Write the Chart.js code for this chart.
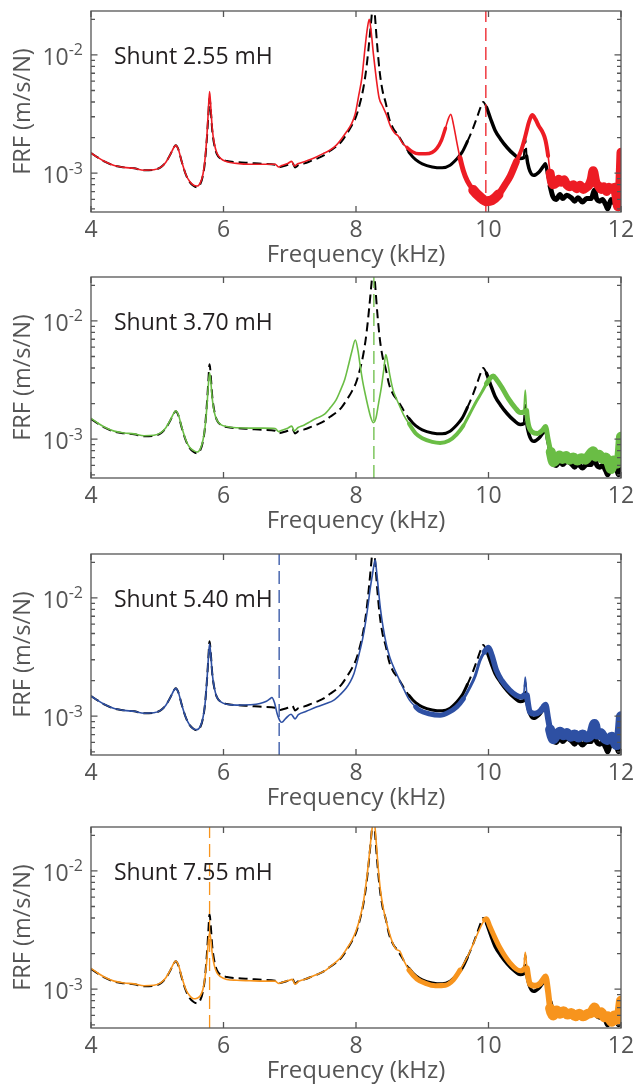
<!DOCTYPE html>
<html>
<head>
<meta charset="utf-8">
<script src="https://cdn.jsdelivr.net/npm/chart.js@4.4.1/dist/chart.umd.min.js"></script>
<style>
  html, body { margin: 0; padding: 0; background: #fff; }
  #page { position: relative; width: 634px; height: 1085px; overflow: hidden; }
  #page canvas { position: absolute; left: 0; }
</style>
</head>
<body>
<div id="page"></div>
<script>
// axis values
const FREQ_TICKS = [4, 6, 8, 10, 12];
const FRF_DECADES = [-3, -2];
const PANEL_LABELS = ['Shunt 2.55 mH', 'Shunt 3.70 mH', 'Shunt 5.40 mH', 'Shunt 7.55 mH'];
// tuned frequency of each shunt (kHz), the vertical dashed line
const TUNED_FREQ = [9.96, 8.27, 6.84, 5.79];

// open circuit FRF, black dashed in every panel  [kHz, m/s/N]
const OPEN_CIRCUIT = [
  [4.00, 1.48e-3], [4.10, 1.36e-3], [4.20, 1.26e-3], [4.35, 1.16e-3], [4.50, 1.12e-3],
  [4.65, 1.10e-3], [4.80, 1.06e-3], [4.95, 1.07e-3], [5.05, 1.12e-3], [5.13, 1.24e-3],
  [5.20, 1.45e-3], [5.25, 1.65e-3], [5.28, 1.72e-3], [5.32, 1.58e-3], [5.37, 1.25e-3],
  [5.43, 9.8e-4], [5.49, 8.4e-4], [5.55, 7.8e-4], [5.60, 7.6e-4], [5.65, 8.1e-4],
  [5.69, 9.6e-4], [5.72, 1.25e-3], [5.75, 2.0e-3], [5.77, 3.0e-3], [5.79, 4.3e-3],
  [5.81, 3.3e-3], [5.83, 2.3e-3], [5.86, 1.75e-3], [5.90, 1.45e-3], [5.96, 1.32e-3],
  [6.05, 1.27e-3], [6.20, 1.24e-3], [6.40, 1.22e-3], [6.60, 1.20e-3], [6.78, 1.18e-3],
  [6.83, 1.12e-3], [6.88, 1.14e-3], [6.97, 1.18e-3], [7.04, 1.22e-3], [7.08, 1.12e-3],
  [7.13, 1.17e-3], [7.22, 1.21e-3], [7.32, 1.27e-3], [7.41, 1.33e-3], [7.52, 1.42e-3],
  [7.61, 1.55e-3], [7.70, 1.68e-3], [7.78, 1.85e-3], [7.86, 2.15e-3], [7.94, 2.55e-3],
  [8.00, 3.0e-3], [8.06, 3.9e-3], [8.11, 5.2e-3], [8.16, 8.0e-3], [8.20, 1.3e-2],
  [8.235, 2.1e-2], [8.265, 3.0e-2], [8.29, 2.0e-2], [8.32, 1.2e-2], [8.36, 7.0e-3],
  [8.40, 5.0e-3], [8.45, 3.9e-3], [8.50, 2.9e-3], [8.56, 2.4e-3], [8.62, 2.15e-3],
  [8.67, 1.95e-3], [8.72, 1.75e-3], [8.80, 1.5e-3], [8.90, 1.3e-3], [9.00, 1.2e-3],
  [9.15, 1.13e-3], [9.30, 1.11e-3], [9.42, 1.17e-3], [9.52, 1.32e-3], [9.60, 1.5e-3],
  [9.68, 1.85e-3], [9.76, 2.35e-3], [9.83, 3.0e-3], [9.88, 3.6e-3], [9.92, 4.0e-3],
  [9.97, 3.6e-3], [10.03, 2.9e-3], [10.10, 2.3e-3], [10.18, 1.95e-3], [10.28, 1.65e-3],
  [10.38, 1.45e-3], [10.48, 1.33e-3], [10.53, 1.35e-3], [10.555, 1.95e-3], [10.575, 1.4e-3],
  [10.61, 1.1e-3], [10.68, 9.6e-4], [10.76, 1.02e-3], [10.83, 1.15e-3], [10.86, 1.2e-3],
  [10.89, 1.0e-3], [10.93, 7.8e-4], [10.97, 6.4e-4], [11.02, 6.0e-4], [11.08, 6.6e-4],
  [11.12, 6.1e-4], [11.18, 6.5e-4], [11.25, 6.2e-4], [11.30, 5.8e-4], [11.35, 6.2e-4],
  [11.42, 5.7e-4], [11.48, 6.1e-4], [11.55, 6.1e-4], [11.60, 7.2e-4], [11.63, 6.1e-4],
  [11.68, 5.8e-4], [11.72, 6.0e-4], [11.77, 5.4e-4], [11.80, 5.0e-4], [11.85, 6.0e-4],
  [11.90, 5.6e-4], [11.92, 5.9e-4], [11.96, 5.0e-4], [12.00, 6.4e-4]
];

const SHUNT_255 = [
  [4.00, 1.48e-3], [4.10, 1.36e-3], [4.20, 1.26e-3], [4.35, 1.16e-3], [4.50, 1.12e-3],
  [4.65, 1.10e-3], [4.80, 1.06e-3], [4.95, 1.07e-3], [5.05, 1.12e-3], [5.13, 1.24e-3],
  [5.20, 1.45e-3], [5.25, 1.65e-3], [5.28, 1.72e-3], [5.32, 1.58e-3], [5.37, 1.25e-3],
  [5.43, 9.8e-4], [5.49, 8.5e-4], [5.55, 7.9e-4], [5.60, 7.8e-4], [5.65, 8.3e-4],
  [5.69, 9.8e-4], [5.72, 1.3e-3], [5.75, 2.1e-3], [5.77, 3.3e-3], [5.79, 4.9e-3],
  [5.81, 3.5e-3], [5.83, 2.4e-3], [5.86, 1.8e-3], [5.90, 1.48e-3], [5.96, 1.33e-3],
  [6.05, 1.25e-3], [6.20, 1.21e-3], [6.40, 1.19e-3], [6.60, 1.19e-3], [6.78, 1.19e-3],
  [6.83, 1.13e-3], [6.88, 1.16e-3], [6.97, 1.21e-3], [7.03, 1.26e-3], [7.07, 1.15e-3],
  [7.12, 1.20e-3], [7.22, 1.25e-3], [7.32, 1.31e-3], [7.41, 1.38e-3], [7.52, 1.48e-3],
  [7.61, 1.57e-3], [7.70, 1.72e-3], [7.78, 1.95e-3], [7.86, 2.25e-3], [7.93, 2.6e-3],
  [7.99, 3.2e-3], [8.04, 4.5e-3], [8.09, 6.5e-3], [8.14, 1.2e-2], [8.17, 1.65e-2],
  [8.20, 2.0e-2], [8.23, 1.55e-2], [8.26, 1.05e-2], [8.29, 7.5e-3], [8.32, 5.5e-3],
  [8.35, 4.3e-3], [8.40, 3.7e-3], [8.46, 3.1e-3], [8.52, 2.5e-3], [8.58, 2.2e-3],
  [8.64, 2.05e-3], [8.70, 1.8e-3], [8.77, 1.65e-3], [8.85, 1.52e-3], [8.95, 1.46e-3],
  [9.05, 1.46e-3], [9.15, 1.5e-3], [9.22, 1.62e-3], [9.29, 1.9e-3], [9.35, 2.4e-3],
  [9.40, 2.95e-3], [9.43, 3.15e-3], [9.47, 2.6e-3], [9.52, 1.85e-3], [9.57, 1.35e-3],
  [9.62, 1.05e-3], [9.68, 8.6e-4], [9.77, 7.2e-4], [9.87, 6.3e-4], [9.97, 5.8e-4],
  [10.05, 5.9e-4], [10.15, 6.6e-4], [10.25, 8.0e-4], [10.33, 9.5e-4], [10.42, 1.25e-3],
  [10.50, 1.6e-3], [10.56, 2.1e-3], [10.61, 2.7e-3], [10.66, 3.1e-3], [10.71, 2.85e-3],
  [10.76, 2.5e-3], [10.82, 2.2e-3], [10.86, 1.9e-3], [10.90, 1.4e-3], [10.93, 1.0e-3],
  [10.97, 8.0e-4], [11.02, 8.2e-4], [11.06, 8.9e-4], [11.10, 8.4e-4], [11.14, 8.8e-4],
  [11.18, 8.0e-4], [11.23, 7.7e-4], [11.28, 8.0e-4], [11.33, 7.4e-4], [11.38, 7.9e-4],
  [11.43, 7.3e-4], [11.48, 7.6e-4], [11.52, 8.0e-4], [11.55, 8.8e-4], [11.58, 1.05e-3],
  [11.62, 8.4e-4], [11.66, 7.8e-4], [11.70, 7.3e-4], [11.74, 7.7e-4], [11.78, 7.0e-4],
  [11.82, 7.6e-4], [11.86, 7.3e-4], [11.90, 7.6e-4], [11.93, 6.2e-4], [11.95, 5.2e-4],
  [11.98, 7.5e-4], [12.00, 1.5e-3]
];

const SHUNT_370 = [
  [4.00, 1.50e-3], [4.10, 1.37e-3], [4.20, 1.27e-3], [4.35, 1.17e-3], [4.50, 1.13e-3],
  [4.65, 1.11e-3], [4.80, 1.07e-3], [4.95, 1.08e-3], [5.05, 1.13e-3], [5.13, 1.25e-3],
  [5.20, 1.46e-3], [5.25, 1.66e-3], [5.28, 1.74e-3], [5.32, 1.6e-3], [5.37, 1.26e-3],
  [5.43, 9.9e-4], [5.49, 8.5e-4], [5.55, 8.0e-4], [5.60, 7.8e-4], [5.65, 8.3e-4],
  [5.69, 9.8e-4], [5.72, 1.25e-3], [5.75, 1.9e-3], [5.77, 2.8e-3], [5.79, 3.65e-3],
  [5.81, 3.0e-3], [5.83, 2.2e-3], [5.86, 1.7e-3], [5.90, 1.45e-3], [5.96, 1.33e-3],
  [6.05, 1.28e-3], [6.20, 1.25e-3], [6.40, 1.24e-3], [6.60, 1.24e-3], [6.78, 1.23e-3],
  [6.83, 1.16e-3], [6.88, 1.19e-3], [6.97, 1.24e-3], [7.03, 1.29e-3], [7.07, 1.17e-3],
  [7.12, 1.25e-3], [7.22, 1.32e-3], [7.32, 1.42e-3], [7.41, 1.51e-3], [7.52, 1.62e-3],
  [7.61, 1.84e-3], [7.70, 2.15e-3], [7.76, 2.55e-3], [7.83, 3.2e-3], [7.89, 4.3e-3],
  [7.94, 5.6e-3], [7.99, 6.9e-3], [8.03, 5.6e-3], [8.06, 4.3e-3], [8.10, 3.1e-3],
  [8.14, 2.4e-3], [8.18, 1.9e-3], [8.22, 1.55e-3], [8.26, 1.38e-3], [8.30, 1.5e-3],
  [8.34, 2.0e-3], [8.385, 2.8e-3], [8.42, 3.9e-3], [8.45, 5.2e-3], [8.48, 4.4e-3],
  [8.51, 3.5e-3], [8.56, 2.6e-3], [8.61, 2.2e-3], [8.66, 1.9e-3], [8.72, 1.6e-3],
  [8.80, 1.35e-3], [8.90, 1.12e-3], [9.00, 1.02e-3], [9.15, 9.5e-4], [9.27, 9.3e-4],
  [9.40, 9.7e-4], [9.52, 1.1e-3], [9.62, 1.3e-3], [9.72, 1.65e-3], [9.82, 2.1e-3],
  [9.90, 2.5e-3], [9.97, 2.95e-3], [10.03, 3.3e-3], [10.07, 3.42e-3], [10.12, 3.2e-3],
  [10.20, 2.75e-3], [10.30, 2.2e-3], [10.40, 1.85e-3], [10.48, 1.68e-3], [10.53, 1.7e-3],
  [10.555, 2.6e-3], [10.575, 1.75e-3], [10.60, 1.35e-3], [10.66, 1.15e-3], [10.74, 1.12e-3],
  [10.82, 1.2e-3], [10.86, 1.28e-3], [10.90, 1.0e-3], [10.94, 7.8e-4], [10.98, 6.4e-4],
  [11.03, 6.8e-4], [11.07, 7.3e-4], [11.12, 6.8e-4], [11.17, 7.2e-4], [11.22, 6.7e-4],
  [11.28, 7.0e-4], [11.34, 6.6e-4], [11.40, 6.9e-4], [11.46, 6.7e-4], [11.52, 7.3e-4],
  [11.58, 7.9e-4], [11.62, 7.1e-4], [11.67, 7.4e-4], [11.72, 6.8e-4], [11.77, 7.0e-4],
  [11.81, 6.4e-4], [11.85, 5.6e-4], [11.89, 6.6e-4], [11.93, 6.2e-4], [11.97, 6.6e-4],
  [12.00, 1.05e-3]
];

const SHUNT_540 = [
  [4.00, 1.48e-3], [4.10, 1.36e-3], [4.20, 1.26e-3], [4.35, 1.16e-3], [4.50, 1.12e-3],
  [4.65, 1.10e-3], [4.80, 1.06e-3], [4.95, 1.07e-3], [5.05, 1.12e-3], [5.13, 1.24e-3],
  [5.20, 1.45e-3], [5.25, 1.65e-3], [5.28, 1.72e-3], [5.32, 1.58e-3], [5.37, 1.25e-3],
  [5.43, 9.8e-4], [5.49, 8.4e-4], [5.55, 7.8e-4], [5.60, 7.7e-4], [5.65, 8.2e-4],
  [5.69, 9.7e-4], [5.72, 1.25e-3], [5.75, 2.0e-3], [5.77, 3.0e-3], [5.79, 4.1e-3],
  [5.81, 3.2e-3], [5.83, 2.3e-3], [5.86, 1.75e-3], [5.90, 1.45e-3], [5.96, 1.32e-3],
  [6.05, 1.26e-3], [6.20, 1.24e-3], [6.40, 1.25e-3], [6.55, 1.28e-3], [6.64, 1.33e-3],
  [6.70, 1.40e-3], [6.73, 1.44e-3], [6.77, 1.30e-3], [6.81, 1.05e-3], [6.86, 9.0e-4],
  [6.88, 8.9e-4], [6.94, 9.6e-4], [7.02, 1.04e-3], [7.08, 9.5e-4], [7.13, 1.03e-3],
  [7.25, 1.1e-3], [7.41, 1.2e-3], [7.55, 1.28e-3], [7.66, 1.36e-3], [7.76, 1.52e-3],
  [7.85, 1.72e-3], [7.91, 1.94e-3], [7.97, 2.3e-3], [8.01, 2.77e-3], [8.06, 3.6e-3],
  [8.10, 4.5e-3], [8.14, 6.0e-3], [8.18, 8.5e-3], [8.21, 1.15e-2], [8.25, 1.6e-2],
  [8.29, 2.1e-2], [8.31, 1.7e-2], [8.34, 1.15e-2], [8.37, 8.0e-3], [8.41, 5.6e-3],
  [8.46, 4.0e-3], [8.51, 3.15e-3], [8.58, 2.5e-3], [8.66, 2.0e-3], [8.73, 1.65e-3],
  [8.81, 1.36e-3], [8.90, 1.2e-3], [8.96, 1.12e-3], [9.10, 1.05e-3], [9.27, 1.02e-3],
  [9.40, 1.08e-3], [9.52, 1.2e-3], [9.62, 1.4e-3], [9.72, 1.76e-3], [9.80, 2.2e-3],
  [9.87, 2.95e-3], [9.94, 3.5e-3], [10.00, 3.8e-3], [10.05, 3.3e-3], [10.12, 2.43e-3],
  [10.20, 2.0e-3], [10.32, 1.66e-3], [10.42, 1.5e-3], [10.50, 1.45e-3], [10.53, 1.5e-3],
  [10.555, 2.14e-3], [10.58, 1.5e-3], [10.63, 1.08e-3], [10.70, 1.05e-3], [10.78, 1.1e-3],
  [10.83, 1.2e-3], [10.86, 1.25e-3], [10.90, 9.5e-4], [10.93, 7.7e-4], [10.98, 6.4e-4],
  [11.03, 7.0e-4], [11.08, 7.4e-4], [11.13, 6.9e-4], [11.18, 7.2e-4], [11.24, 6.7e-4],
  [11.30, 7.0e-4], [11.36, 6.6e-4], [11.42, 7.0e-4], [11.48, 6.6e-4], [11.55, 7.0e-4],
  [11.60, 8.6e-4], [11.64, 7.0e-4], [11.69, 7.2e-4], [11.74, 6.6e-4], [11.80, 6.3e-4],
  [11.86, 6.7e-4], [11.90, 6.1e-4], [11.93, 5.7e-4], [11.97, 6.4e-4], [12.00, 1.0e-3]
];

const SHUNT_755 = [
  [4.00, 1.50e-3], [4.10, 1.37e-3], [4.20, 1.27e-3], [4.35, 1.17e-3], [4.50, 1.13e-3],
  [4.65, 1.11e-3], [4.80, 1.07e-3], [4.95, 1.08e-3], [5.05, 1.13e-3], [5.13, 1.25e-3],
  [5.20, 1.46e-3], [5.25, 1.66e-3], [5.28, 1.73e-3], [5.32, 1.6e-3], [5.37, 1.27e-3],
  [5.43, 1.0e-3], [5.49, 8.8e-4], [5.55, 8.3e-4], [5.60, 8.4e-4], [5.65, 8.8e-4],
  [5.69, 1.0e-3], [5.72, 1.25e-3], [5.75, 1.8e-3], [5.77, 2.5e-3], [5.79, 3.0e-3],
  [5.81, 2.6e-3], [5.83, 2.0e-3], [5.86, 1.6e-3], [5.90, 1.38e-3], [5.96, 1.27e-3],
  [6.05, 1.21e-3], [6.20, 1.19e-3], [6.40, 1.18e-3], [6.60, 1.17e-3], [6.78, 1.17e-3],
  [6.83, 1.12e-3], [6.88, 1.14e-3], [6.97, 1.18e-3], [7.04, 1.21e-3], [7.08, 1.10e-3],
  [7.13, 1.16e-3], [7.22, 1.21e-3], [7.32, 1.27e-3], [7.41, 1.33e-3], [7.52, 1.42e-3],
  [7.61, 1.55e-3], [7.70, 1.7e-3], [7.78, 1.88e-3], [7.86, 2.2e-3], [7.94, 2.6e-3],
  [8.00, 3.1e-3], [8.06, 4.0e-3], [8.11, 5.4e-3], [8.16, 8.5e-3], [8.20, 1.35e-2],
  [8.24, 2.2e-2], [8.27, 2.8e-2], [8.30, 1.9e-2], [8.33, 1.15e-2], [8.37, 6.8e-3],
  [8.41, 4.9e-3], [8.46, 3.7e-3], [8.51, 2.9e-3], [8.57, 2.35e-3], [8.62, 2.15e-3],
  [8.66, 2.1e-3], [8.72, 1.75e-3], [8.80, 1.45e-3], [8.92, 1.22e-3], [9.05, 1.12e-3],
  [9.20, 1.07e-3], [9.35, 1.08e-3], [9.47, 1.2e-3], [9.57, 1.45e-3], [9.67, 1.82e-3],
  [9.76, 2.35e-3], [9.83, 2.9e-3], [9.88, 3.35e-3], [9.94, 3.85e-3], [9.97, 3.94e-3],
  [10.02, 3.4e-3], [10.07, 2.94e-3], [10.17, 2.25e-3], [10.32, 1.68e-3], [10.48, 1.43e-3],
  [10.53, 1.48e-3], [10.555, 2.05e-3], [10.58, 1.5e-3], [10.63, 1.1e-3], [10.70, 1.07e-3],
  [10.78, 1.12e-3], [10.83, 1.22e-3], [10.86, 1.28e-3], [10.90, 9.5e-4], [10.93, 6.9e-4],
  [10.98, 6.0e-4], [11.03, 6.6e-4], [11.08, 6.2e-4], [11.13, 6.5e-4], [11.19, 6.1e-4],
  [11.25, 6.3e-4], [11.31, 5.9e-4], [11.37, 6.2e-4], [11.43, 5.9e-4], [11.50, 6.2e-4],
  [11.55, 6.3e-4], [11.60, 7.0e-4], [11.65, 6.2e-4], [11.70, 6.4e-4], [11.75, 5.8e-4],
  [11.80, 5.9e-4], [11.86, 5.3e-4], [11.90, 6.0e-4], [11.94, 5.5e-4], [11.97, 5.9e-4],
  [12.00, 8.0e-4]
];

const SHUNTS = [SHUNT_255, SHUNT_370, SHUNT_540, SHUNT_755];

// ---- styling ----
const COLORS = ['#ed1c24', '#6abd45', '#2e50a3', '#f7941d'];
const FONT = "'Open Sans', sans-serif";
const AXIS_COLOR = '#555555';
const AXIS_TEXT = '#555555';
const LABEL_TEXT = '#231f20';
const Y_MIN = 4.7e-4;
const Y_MAX = 2.35e-2;
const CANVAS_TOPS = [0, 266, 543, 816];
const CANVAS_H = 270;

// noisy stretches of the measurements drawn as a thicker trace: [from kHz, to kHz, px]
const NOISE_REF = [[8.85, 9.65, 3], [9.97, 10.52, 3.5], [10.58, 10.92, 3.5], [10.92, 12.01, 5]];
const NOISE = [
  [[8.8, 9.35, 3.5], [9.55, 9.75, 5], [9.75, 10.2, 10], [10.2, 10.45, 7], [10.45, 10.9, 4], [10.93, 12.01, 9]],
  [[8.85, 9.6, 4], [9.6, 9.95, 3], [9.95, 10.52, 5], [10.58, 10.93, 5], [10.93, 12.01, 10]],
  [[8.9, 9.6, 5], [9.6, 9.95, 3], [9.95, 10.52, 5.5], [10.58, 10.93, 6], [10.93, 12.01, 10]],
  [[8.85, 9.6, 5], [9.95, 10.52, 5], [10.58, 10.93, 6], [10.93, 12.01, 10]]
];

const toXY = (pairs) => pairs.map(([x, y]) => ({ x, y }));

const bandAt = (bands, c) => {
  const mid = (c.p0.parsed.x + c.p1.parsed.x) / 2;
  return bands.find(b => mid >= b[0] && mid < b[1]);
};

// box, inward ticks, 10^n labels and the panel caption
const frameAxes = {
  id: 'frameAxes',
  afterDatasetsDraw(chart, args, opts) {
    const { ctx, chartArea: a, scales: { x, y } } = chart;
    ctx.save();
    ctx.strokeStyle = AXIS_COLOR;
    ctx.lineWidth = 1.3;
    ctx.setLineDash([]);
    ctx.beginPath();
    for (const v of FREQ_TICKS) {
      const px = x.getPixelForValue(v);
      ctx.moveTo(px, a.bottom); ctx.lineTo(px, a.bottom - 6);
      ctx.moveTo(px, a.top); ctx.lineTo(px, a.top + 6);
    }
    for (let e = -4; e <= -1; e++) {
      for (let m = 1; m <= 9; m++) {
        const v = m * Math.pow(10, e);
        if (v < y.min || v > y.max) continue;
        const py = y.getPixelForValue(v);
        const len = m === 1 ? 6.5 : 4;
        ctx.moveTo(a.left, py); ctx.lineTo(a.left + len, py);
        ctx.moveTo(a.right, py); ctx.lineTo(a.right - len, py);
      }
    }
    ctx.stroke();
    ctx.strokeRect(a.left, a.top, a.right - a.left, a.bottom - a.top);

    ctx.fillStyle = AXIS_TEXT;
    ctx.textAlign = 'left';
    ctx.textBaseline = 'alphabetic';
    for (const e of FRF_DECADES) {
      const py = y.getPixelForValue(Math.pow(10, e));
      ctx.font = `23px ${FONT}`;
      const w10 = ctx.measureText('10').width;
      ctx.font = `16px ${FONT}`;
      const sup = '-' + (-e);
      const wSup = ctx.measureText(sup).width;
      const x0 = a.left - 8 - w10 - wSup;
      ctx.font = `23px ${FONT}`;
      ctx.fillText('10', x0, py + 10);
      ctx.font = `16px ${FONT}`;
      ctx.fillText(sup, x0 + w10, py + 0.5);
    }

    ctx.fillStyle = LABEL_TEXT;
    ctx.font = `23px ${FONT}`;
    ctx.fillText(opts.label, 114, y.getPixelForValue(1e-2) + 9.5);
    ctx.restore();
  }
};

const page = document.getElementById('page');

const createPanel = (i) => {
  const canvas = document.createElement('canvas');
  canvas.width = 634;
  canvas.height = CANVAS_H;
  canvas.style.top = CANVAS_TOPS[i] + 'px';
  page.appendChild(canvas);
  const color = COLORS[i];

  return new Chart(canvas, {
    type: 'line',
    data: {
      datasets: [
        {
          data: [{ x: TUNED_FREQ[i], y: Y_MIN }, { x: TUNED_FREQ[i], y: Y_MAX }],
          borderColor: color,
          borderWidth: 1.3,
          borderDash: [13, 6],
          pointRadius: 0,
          clip: 0,
        },
        {
          data: toXY(SHUNTS[i]),
          borderColor: color,
          borderWidth: 1.6,
          borderJoinStyle: 'round',
          borderCapStyle: 'round',
          pointRadius: 0,
          cubicInterpolationMode: 'monotone',
          clip: 0,
          segment: {
            borderWidth: c => { const b = bandAt(NOISE[i], c); return b ? b[2] : undefined; },
          },
        },
        {
          data: toXY(OPEN_CIRCUIT),
          borderColor: '#000000',
          borderWidth: 2,
          borderDash: [9, 5],
          borderJoinStyle: 'round',
          pointRadius: 0,
          cubicInterpolationMode: 'monotone',
          clip: 0,
          segment: {
            borderWidth: c => { const b = bandAt(NOISE_REF, c); return b ? b[2] : undefined; },
            borderDash: c => (bandAt(NOISE_REF, c) ? [] : undefined),
            borderCapStyle: c => (bandAt(NOISE_REF, c) ? 'round' : undefined),
          },
        },
      ],
    },
    options: {
      responsive: false,
      animation: false,
      devicePixelRatio: 1,
      events: [],
      layout: { padding: { top: 11, right: 13, bottom: 0, left: 0 } },
      plugins: {
        legend: { display: false },
        tooltip: { enabled: false },
        frameAxes: { label: PANEL_LABELS[i] },
      },
      scales: {
        x: {
          type: 'linear',
          min: 4,
          max: 12,
          afterBuildTicks: (s) => { s.ticks = FREQ_TICKS.map(v => ({ value: v })); },
          ticks: { font: { family: FONT, size: 23 }, color: AXIS_TEXT, padding: -3, maxRotation: 0, autoSkip: false },
          grid: { display: false },
          border: { display: false },
          title: {
            display: true,
            text: 'Frequency (kHz)',
            font: { family: FONT, size: 24 },
            color: AXIS_TEXT,
            padding: { top: 0, bottom: 0 },
          },
          afterFit: (s) => { s.height = CANVAS_H - 212; s.paddingLeft = 0; s.paddingRight = 0; },
        },
        y: {
          type: 'logarithmic',
          min: Y_MIN,
          max: Y_MAX,
          ticks: { display: false },
          grid: { display: false },
          border: { display: false },
          title: {
            display: true,
            text: 'FRF (m/s/N)',
            font: { family: FONT, size: 23.5 },
            color: AXIS_TEXT,
            padding: { top: 9, bottom: 0 },
          },
          afterFit: (s) => { s.width = 91; s.paddingTop = 0; s.paddingBottom = 0; },
        },
      },
    },
    plugins: [frameAxes],
  });
};

[0, 1, 2, 3].forEach(createPanel);
</script>
</body>
</html>
